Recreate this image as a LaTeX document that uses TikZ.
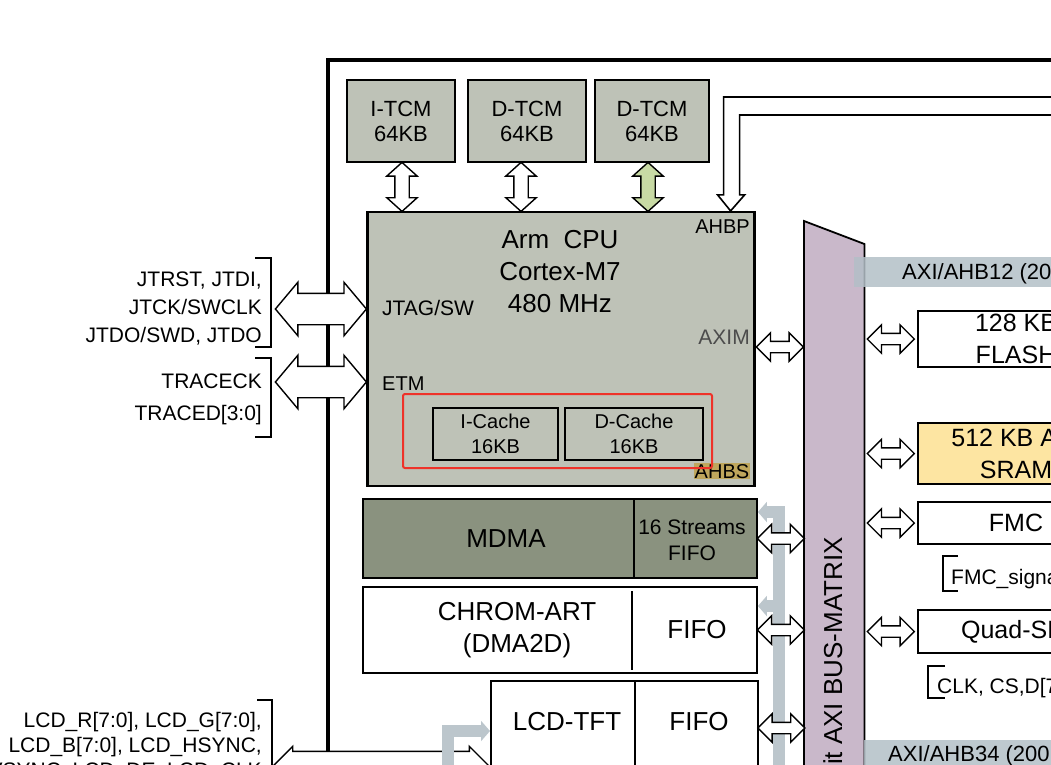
\documentclass[tikz,border=0pt]{standalone}
\usepackage{fontspec}
\setmainfont{Liberation Sans}
\usetikzlibrary{shapes.arrows, arrows.meta, calc}

\definecolor{cpugray}{HTML}{BEC2B7}
\definecolor{mdmagray}{HTML}{8A927F}
\definecolor{lilac}{HTML}{C9B8CA}
\definecolor{bandgray}{HTML}{B3BFC7}
\definecolor{busgray}{HTML}{BCC6CC}
\definecolor{sramyellow}{HTML}{FDE5A2}
\definecolor{tcmgreen}{HTML}{C8DAA4}
\definecolor{ahbsgold}{HTML}{BFA65C}
\definecolor{cachered}{HTML}{EE3229}

\newcommand{\fsz}[2]{\fontsize{#1}{#2}\selectfont}

\begin{document}
\begin{tikzpicture}[
    x=1pt, y=-1pt,
    tcm/.style={rectangle, draw, line width=1.8pt, fill=cpugray, minimum height=82pt, align=center, font=\fsz{22}{25}},
    cache/.style={rectangle, draw, line width=1.6pt, fill=cpugray, minimum height=52pt, align=center, font=\fsz{20}{25}},
    block/.style={rectangle, draw, line width=1.8pt, inner sep=0pt},
    ext/.style={rectangle, draw, line width=1.8pt, fill=white, minimum width=196pt, inner sep=0pt, align=center},
    lbl/.style={inner sep=0pt},
    sig/.style={inner sep=0pt, align=right, anchor=east},
    brk/.style={line width=1.8pt},
    dbl/.style={double arrow, draw, fill=white, line width=1.4pt, inner xsep=0pt, text height=0pt, text depth=0pt},
    tcmlink/.style={dbl, rotate=90, inner ysep=6.5pt, double arrow head extend=8pt, double arrow tip angle=96, minimum height=49pt},
    buslink/.style={dbl, inner ysep=5pt, double arrow head extend=8.5pt, double arrow tip angle=90, minimum height=47pt},
    dbglink/.style={dbl, inner ysep=15pt, double arrow head extend=11pt, double arrow tip angle=100, minimum height=91pt},
    dmabus/.style={draw=busgray, line width=12pt, -{Triangle[length=9pt, width=20pt]}},
    band/.style={fill=bandgray, opacity=.85}
]
\useasboundingbox (0,0) rectangle (1051,764);
\clip (0,0) rectangle (1051,764);

% Cadre
\draw[line width=4pt] (1060,60) -- (328,60) -- (328,760);

% TCM
\node[tcm, minimum width=108pt] (itcm) at (401,121) {I-TCM\\64KB};
\node[tcm, minimum width=118pt] (dtcm1) at (527,121) {D-TCM\\64KB};
\node[tcm, minimum width=114pt] (dtcm2) at (652,121) {D-TCM\\64KB};

% CPU
\node[block, line width=2.2pt, fill=cpugray, minimum width=387pt, minimum height=274pt] (cpu) at (561,349) {};
\node[lbl, align=center, font=\fsz{26}{32}] (cputxt) at (560,272) {Arm\ \ CPU\\Cortex-M7\\480 MHz};
\node[lbl, anchor=base east, font=\fsz{20}{24}] (ahbptxt) at (750,233) {AHBP};
\node[lbl, anchor=base west, font=\fsz{21}{24}] (jtagtxt) at (382,315) {JTAG/SW};
\node[lbl, anchor=base east, font=\fsz{21}{24}, text=black!70] (aximtxt) at (750,344) {AXIM};
\node[lbl, anchor=base west, font=\fsz{20}{24}] (etmtxt) at (382,390) {ETM};
\node[lbl, anchor=south east, inner sep=.6pt, fill=ahbsgold, font=\fsz{20}{24}] (ahbstxt) at (750,479) {AHBS};

% Caches
\draw[cachered, line width=2pt, rounded corners=2pt] (403,394) rectangle (712,468);
\node[cache, minimum width=125pt] (icache) at (495.5,434) {I-Cache\\16KB};
\node[cache, minimum width=138pt] (dcache) at (634,434) {D-Cache\\16KB};

% Liens TCM
\node[tcmlink] (l1) at ($(itcm.south)!.5!(itcm.south |- cpu.north)+(1,0)$) {};
\node[tcmlink] (l2) at ($(dtcm1.south)!.5!(dtcm1.south |- cpu.north)+(-6,0)$) {};
\node[tcmlink, fill=tcmgreen] (l3) at ($(dtcm2.south)!.5!(dtcm2.south |- cpu.north)+(-4,0)$) {};

% AHBP
\coordinate (ahbp) at ($(cpu.north east)+(-25,0)$);
\draw[line width=1.6pt] (1060,97) -| ($(ahbp)+(-7,-16)$) -- ++(-6,0) -- (ahbp) -- ++(14,-16) -- ++(-5,0) |- (1060,115);

% Debug
\node[sig, font=\fsz{21}{28}] (jtagsig) at (262,309) {JTRST, JTDI,\\JTCK/SWCLK\\JTDO/SWD, JTDO};
\draw[brk] (255,258) -| (271,347) -- (255,347);
\node[dbglink] (jtag) at ($(cpu.west |- 0,309)+(-45.5,0)$) {};
\node[sig, font=\fsz{21}{32}] (tracesig) at (262,399) {TRACECK\\TRACED[3:0]};
\draw[brk] (255,358) -| (271,437) -- (255,437);
\node[dbglink] (etm) at ($(cpu.west |- 0,382)+(-45.5,0)$) {};

% DMA
\node[block, fill=mdmagray, minimum width=394pt, minimum height=79pt] (mdma) at (560,538.5) {};
\draw[line width=1.8pt] (mdma.north -| 634,0) -- (mdma.south -| 634,0);
\node[lbl, font=\fsz{26}{30}] (mdmatxt) at (506,539) {MDMA};
\node[lbl, align=center, font=\fsz{21}{26}] (mdmafifo) at (692,540) {16 Streams\\FIFO};

\node[block, fill=white, minimum width=394pt, minimum height=86pt] (chrom) at (560,630) {};
\draw[line width=1.8pt] (632,591) -- (632,670);
\node[lbl, align=center, font=\fsz{26}{32}] (chromtxt) at (517,630) {CHROM-ART\\(DMA2D)};
\node[lbl, font=\fsz{26}{30}] (chromfifo) at (697,630) {FIFO};

\node[block, fill=white, minimum width=267pt, minimum height=130pt, anchor=north west] (lcd) at (490,680) {};
\draw[line width=1.8pt] (lcd.north -| 635,0) -- (lcd.south -| 635,0);
\node[lbl, font=\fsz{26}{30}] (lcdtxt) at (567,722) {LCD-TFT};
\node[lbl, font=\fsz{26}{30}] (lcdfifo) at (699,722) {FIFO};

% LCD
\node[sig, font=\fsz{21}{25}] (lcdsig) at (262,747) {LCD\_R[7:0], LCD\_G[7:0],\\LCD\_B[7:0], LCD\_HSYNC,\\LCD\_VSYNC, LCD\_DE, LCD\_CLK};
\draw[brk] (257,700) -| (272,800);
\node[dbl, inner ysep=16pt, double arrow head extend=5pt, double arrow tip angle=90, minimum height=220pt] (lcdio) at ($(lcd.west |- 0,768)+(-109,0)$) {};

% Bus DMA
\draw[dmabus] (779,800) -- (779,512) -- (mdma.east |- 0,512);
\draw[dmabus] (779,606) -- (chrom.east |- 0,606);
\draw[dmabus] (448,800) -- (448,731) -- (lcd.west |- 0,731);

% Bus matrix
\node[fill=lilac, minimum width=60pt, minimum height=560pt, inner sep=0pt, anchor=north west] (bus) at (804,244) {};
\fill[lilac] (bus.north west) -- ++(0,-23) -- (bus.north east) -- cycle;
\draw[line width=1.8pt] (bus.south west) -- ($(bus.north west)+(0,-23)$) -- (bus.north east) -- (bus.south east);
\node[lbl, rotate=90, anchor=base east, font=\fsz{26}{30}] (bustxt) at (842,537) {64-bit AXI BUS-MATRIX};

\fill[band] (854,257) rectangle (1060,287);
\node[lbl, anchor=base west, font=\fsz{22}{26}] (axi12) at (902,279) {AXI/AHB12 (200MHz)};
\fill[band] (864,740) rectangle (1060,780);
\node[lbl, anchor=base west, font=\fsz{22}{26}] (axi34) at (888,761) {AXI/AHB34 (200MHz)};

% Memoires
\node[ext, minimum height=56pt, font=\fsz{25}{32}] (flash) at (1016,339) {128 KB\\FLASH};
\node[ext, fill=sramyellow, minimum height=61pt, font=\fsz{25}{32}] (sram) at (1016,453.5) {512 KB AXI\\SRAM};
\node[ext, minimum height=42pt, font=\fsz{25}{28}] (fmc) at (1016,523) {FMC};
\node[lbl, anchor=base west, font=\fsz{21}{24}] (fmcsig) at (951,584) {FMC\_signals};
\draw[brk] (958,556) -| (943,591) -- (958,591);
\node[ext, minimum height=43pt, font=\fsz{25}{28}] (qspi) at (1016,631.5) {Quad-SPI};
\node[lbl, anchor=base west, font=\fsz{21}{24}] (qspisig) at (937,693) {CLK, CS,D[7:0]};
\draw[brk] (945,666) -| (928,698) -- (945,698);

% Liens bus
\node[buslink] (aximl) at ($(cpu.east |- 0,347)!.5!(bus.west |- 0,347)$) {};
\node[buslink] (mdmal) at ($(mdma.east)!.5!(bus.west |- mdma.east)$) {};
\node[buslink] (chroml) at ($(chrom.east)!.5!(bus.west |- chrom.east)$) {};
\node[buslink] (lcdl) at ($(lcd.east |- 0,728)!.5!(bus.west |- 0,728)$) {};
\node[buslink] (flashl) at ($(bus.east |- flash.west)!.5!(flash.west)$) {};
\node[buslink] (sraml) at ($(bus.east |- sram.west)!.5!(sram.west)$) {};
\node[buslink] (fmcl) at ($(bus.east |- fmc.west)!.5!(fmc.west)$) {};
\node[buslink] (qspil) at ($(bus.east |- qspi.west)!.5!(qspi.west)$) {};

\end{tikzpicture}
\end{document}
